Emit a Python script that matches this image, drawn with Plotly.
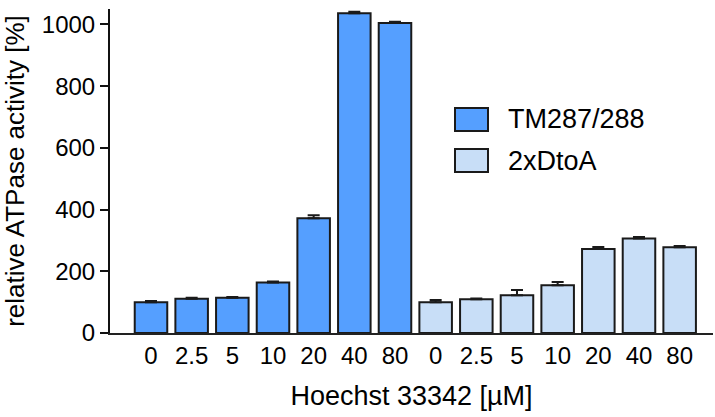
import plotly.graph_objects as go

# Hoechst 33342 concentrations (µM) for each construct
concentrations = ["0", "2.5", "5", "10", "20", "40", "80"]

# Relative ATPase activity (%), mean and upper error
tm_values = [100, 111, 114, 164, 372, 1036, 1005]
tm_errors = [4, 3, 3, 3, 10, 5, 4]
dtoa_values = [100, 109, 122, 155, 272, 306, 278]
dtoa_errors = [7, 3, 17, 10, 7, 5, 4]

series_names = ["TM287/288", "2xDtoA"]
series_colors = ["#559FFF", "#C8DEF7"]
edge_color = "#1A1A1A"

n = len(concentrations)
tm_x = list(range(n))
dtoa_x = list(range(n, 2 * n))
tick_vals = tm_x + dtoa_x
tick_text = concentrations + concentrations

FONT = "Liberation Sans, Arial, sans-serif"

W, H = 715, 417
M_L, M_R, M_T, M_B = 110, 2, 9, 84


def px_to_paper(px, py):
    """Convert page pixel coordinates to paper coordinates of the plot area."""
    pw = W - M_L - M_R
    ph = H - M_T - M_B
    return (px - M_L) / pw, (H - M_B - py) / ph


fig = go.Figure()

for name, xs, ys, errs, color in [
    (series_names[0], tm_x, tm_values, tm_errors, series_colors[0]),
    (series_names[1], dtoa_x, dtoa_values, dtoa_errors, series_colors[1]),
]:
    fig.add_trace(go.Bar(
        x=xs, y=ys, name=name, width=0.8,
        marker=dict(color=color, line=dict(color=edge_color, width=2)),
        error_y=dict(type="data", array=errs, arrayminus=[0] * len(errs),
                     symmetric=False, color=edge_color, thickness=2, width=6),
        showlegend=False,
    ))

# Legend drawn as boxes with labels
legend_rows = [(108, 131, 119), (149, 172, 160.5)]
for (top, bottom, mid), name, color in zip(legend_rows, series_names, series_colors):
    x0, y0 = px_to_paper(455, bottom)
    x1, y1 = px_to_paper(488, top)
    fig.add_shape(type="rect", xref="paper", yref="paper", x0=x0, y0=y0, x1=x1, y1=y1,
                  fillcolor=color, line=dict(color=edge_color, width=2))
    tx, ty = px_to_paper(506, mid)
    fig.add_annotation(xref="paper", yref="paper", x=tx, y=ty, text=name,
                       showarrow=False, xanchor="left", yanchor="middle",
                       font=dict(family=FONT, size=27, color="black"))

fig.update_layout(
    width=W, height=H,
    margin=dict(l=M_L, r=M_R, t=M_T, b=M_B),
    paper_bgcolor="white", plot_bgcolor="white",
    barmode="overlay",
    font=dict(family=FONT, size=24, color="black"),
)

fig.update_xaxes(
    range=[-1.008, 13.82],
    tickmode="array", tickvals=tick_vals, ticktext=tick_text,
    showline=True, linecolor="#222222", linewidth=2,
    ticks="", showgrid=False, zeroline=False,
    tickfont=dict(family=FONT, size=24, color="black"),
    title=dict(text="Hoechst 33342 [µM]", font=dict(family=FONT, size=27, color="black"),
               standoff=18),
)

fig.update_yaxes(
    range=[0, 1050],
    tickmode="array", tickvals=[0, 200, 400, 600, 800, 1000],
    showline=True, linecolor="#111111", linewidth=2,
    ticks="outside", ticklen=8, tickwidth=2, tickcolor="#111111",
    showgrid=False, zeroline=False,
    tickfont=dict(family=FONT, size=24, color="black"),
    title=dict(text="relative ATPase activity [%]",
               font=dict(family=FONT, size=26, color="black"), standoff=12),
)

fig.write_html("out.html")
